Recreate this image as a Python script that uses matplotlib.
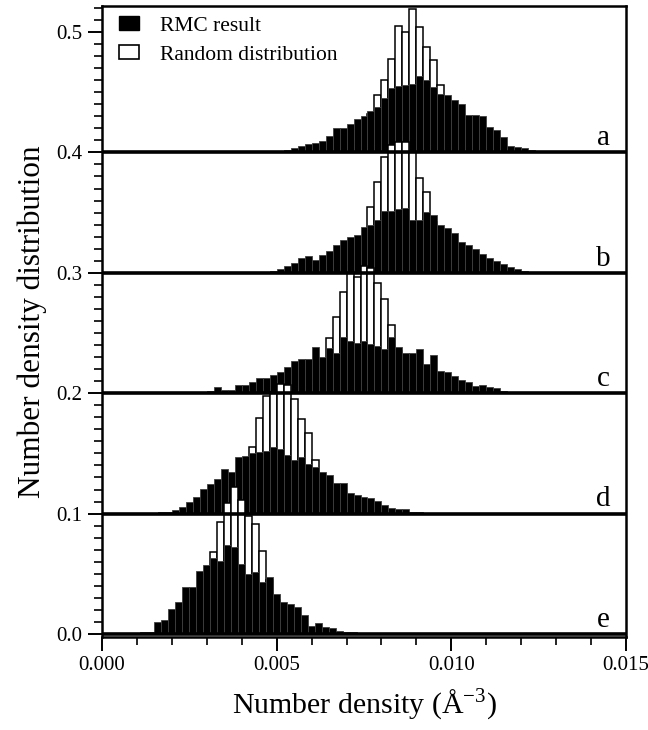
import numpy as np
import matplotlib
matplotlib.use('Agg')
import matplotlib.pyplot as plt
from matplotlib.patches import Patch
from matplotlib.ticker import MultipleLocator, FormatStrFormatter
from matplotlib.transforms import ScaledTranslation

plt.rcParams['font.family'] = ['Liberation Serif', 'DejaVu Serif']

bin_width = 0.0002
offsets = [0.4, 0.3, 0.2, 0.1, 0.0]
curve_labels = ['a', 'b', 'c', 'd', 'e']

# heights per 0.0002 bin, each list starts at the given bin index
rmc_a_start = 22
rmc_a = [0.0005, 0.0008, 0.001, 0.0012, 0.0017, 0.0033, 0.005, 0.0066, 0.0078, 0.0097,
         0.0133, 0.020, 0.020, 0.0235, 0.0277, 0.030, 0.034, 0.0377, 0.045, 0.0534,
         0.0554, 0.0562, 0.0568, 0.0631, 0.0604, 0.0543, 0.0487, 0.0479, 0.0437, 0.0404,
         0.0313, 0.0313, 0.030, 0.021, 0.0183, 0.0125, 0.005, 0.0044, 0.0033, 0.0017,
         0.001, 0.0006, 0.0005]
rnd_a_start = 35
rnd_a = [0.003, 0.008, 0.018, 0.032, 0.0473, 0.0604, 0.0775, 0.1047, 0.100, 0.119,
         0.1038, 0.0872, 0.077, 0.0556, 0.038, 0.022, 0.010, 0.004]

rmc_b_start = 20
rmc_b = [0.0005, 0.0005, 0.0008, 0.001, 0.0014, 0.0028, 0.0055, 0.0083, 0.0119, 0.0141,
         0.0105, 0.0147, 0.0183, 0.0235, 0.0269, 0.0299, 0.0318, 0.0382, 0.0401, 0.0437,
         0.0512, 0.0512, 0.0529, 0.054, 0.0437, 0.0437, 0.0501, 0.0479, 0.0401, 0.0374,
         0.0327, 0.0257, 0.0235, 0.0194, 0.016, 0.0125, 0.0097, 0.0069, 0.005, 0.003,
         0.0017, 0.001, 0.0005]
rnd_b_start = 34
rnd_b = [0.002, 0.006, 0.014, 0.030, 0.0543, 0.0756, 0.0963, 0.106, 0.1083, 0.1088,
         0.100, 0.0784, 0.0667, 0.042, 0.024, 0.011, 0.004, 0.001]

rmc_c_start = 10
rmc_c = [0.0005, 0.0008, 0.001, 0.001, 0.001, 0.0015, 0.005, 0.0028, 0.0028, 0.0064,
         0.0064, 0.0089, 0.013, 0.013, 0.0147, 0.018, 0.0221, 0.0269, 0.0282, 0.0282,
         0.0382, 0.0299, 0.0374, 0.0338, 0.0465, 0.0437, 0.0421, 0.0437, 0.041, 0.0393,
         0.0365, 0.0465, 0.0382, 0.0338, 0.0338, 0.0371, 0.0244, 0.0316, 0.0188, 0.0172,
         0.0144, 0.0111, 0.0089, 0.0061, 0.0069, 0.0055, 0.0042, 0.0022, 0.001, 0.0005]
rnd_c_start = 28
rnd_c = [0.002, 0.005, 0.012, 0.025, 0.0457, 0.0637, 0.0844, 0.1002, 0.0969, 0.1058,
         0.1038, 0.0919, 0.0784, 0.0568, 0.035, 0.018, 0.008, 0.003]

rmc_d_start = 6
rmc_d = [0.0005, 0.0008, 0.001, 0.0015, 0.003, 0.0053, 0.010, 0.0141, 0.0202, 0.0246,
         0.0285, 0.0368, 0.0349, 0.0468, 0.0479, 0.0501, 0.0515, 0.0523, 0.0551, 0.0534,
         0.0487, 0.0446, 0.0473, 0.041, 0.039, 0.0349, 0.0321, 0.0252, 0.0252, 0.0169,
         0.0155, 0.0136, 0.0127, 0.0105, 0.0072, 0.0044, 0.0036, 0.0036, 0.0017, 0.001,
         0.0005]
rnd_d_start = 16
rnd_d = [0.001, 0.003, 0.007, 0.016, 0.032, 0.0551, 0.0792, 0.0975, 0.1013, 0.1077,
         0.1069, 0.0952, 0.0786, 0.067, 0.0449, 0.030, 0.016, 0.007, 0.003, 0.001]

# curve e is binned on centres at whole multiples of the bin width
rmc_e_start = 3.5
rmc_e = [0.0005, 0.0008, 0.0014, 0.0019, 0.0097, 0.0119, 0.0208, 0.0263, 0.0388, 0.0388,
         0.0526, 0.0576, 0.0629, 0.061, 0.074, 0.072, 0.0581, 0.0498, 0.0518, 0.0435,
         0.0471, 0.0332, 0.0269, 0.025, 0.0224, 0.0158, 0.0069, 0.0091, 0.0061, 0.0047,
         0.0028, 0.0019, 0.0014, 0.0005]
rnd_e_start = 9.5
rnd_e = [0.001, 0.003, 0.008, 0.018, 0.032, 0.050, 0.0684, 0.0933, 0.1085, 0.1224,
         0.1113, 0.098, 0.0914, 0.0692, 0.045, 0.028, 0.014, 0.006, 0.002, 0.001]

rmc_sets = [(rmc_a_start, rmc_a), (rmc_b_start, rmc_b), (rmc_c_start, rmc_c),
            (rmc_d_start, rmc_d), (rmc_e_start, rmc_e)]
rnd_sets = [(rnd_a_start, rnd_a), (rnd_b_start, rnd_b), (rnd_c_start, rnd_c),
            (rnd_d_start, rnd_d), (rnd_e_start, rnd_e)]


def bin_centers(start, heights):
    return (start + np.arange(len(heights)) + 0.5) * bin_width


fig = plt.figure(figsize=(6.48, 7.30), dpi=100)
ax = fig.add_axes([102 / 648, 1 - 637 / 730, 524 / 648, 631 / 730])

for i, (off, lab) in enumerate(zip(offsets, curve_labels)):
    z = 2 + 2 * i
    s, h = rnd_sets[i]
    ax.bar(bin_centers(s, h), h, width=bin_width, bottom=off, color='white',
           edgecolor='black', linewidth=1.1, zorder=z)
    s, h = rmc_sets[i]
    ax.bar(bin_centers(s, h), h, width=bin_width, bottom=off, color='black',
           edgecolor='#404040', linewidth=0.6, zorder=z + 1)
    ax.axhline(off, color='black', linewidth=2.6, zorder=20)
    ax.text(0.01435, off + 0.001, lab, fontsize=21, ha='center', va='bottom', zorder=21)

ax.set_xlim(0, 0.015)
ax.set_ylim(-0.0025, 0.5216)

ax.xaxis.set_major_locator(MultipleLocator(0.005))
ax.xaxis.set_minor_locator(MultipleLocator(0.001))
ax.xaxis.set_major_formatter(FormatStrFormatter('%.3f'))
ax.yaxis.set_major_locator(MultipleLocator(0.1))
ax.yaxis.set_minor_locator(MultipleLocator(0.01))
ax.yaxis.set_major_formatter(FormatStrFormatter('%.1f'))

ax.tick_params(which='major', direction='out', length=10, width=1.4, labelsize=15, pad=4)
ax.tick_params(which='minor', direction='out', length=6, width=1.2)
ax.tick_params(top=False, right=False, which='both')
for sp in ax.spines.values():
    sp.set_linewidth(1.8)

ax.set_xlabel('Number density (Å$^{\\mathregular{-3}}$)', fontsize=21.5, labelpad=8)
ax.set_ylabel('Number density distribution', fontsize=22.5, labelpad=7)

handles = [Patch(facecolor='black', edgecolor='black', label='RMC result'),
           Patch(facecolor='white', edgecolor='black', linewidth=1.2, label='Random distribution')]
ax.legend(handles=handles, loc='upper left', bbox_to_anchor=(-0.005, 1.0145), frameon=False,
          fontsize=15.5, handlelength=0.95, handleheight=0.6, handletextpad=0.95,
          labelspacing=0.45)

# keep the last x tick label inside the figure
fig.canvas.draw()
last = ax.get_xticklabels()[-1]
last.set_transform(last.get_transform() + ScaledTranslation(-5 / 72, 0, fig.dpi_scale_trans))

fig.savefig('out.png', dpi=100)
